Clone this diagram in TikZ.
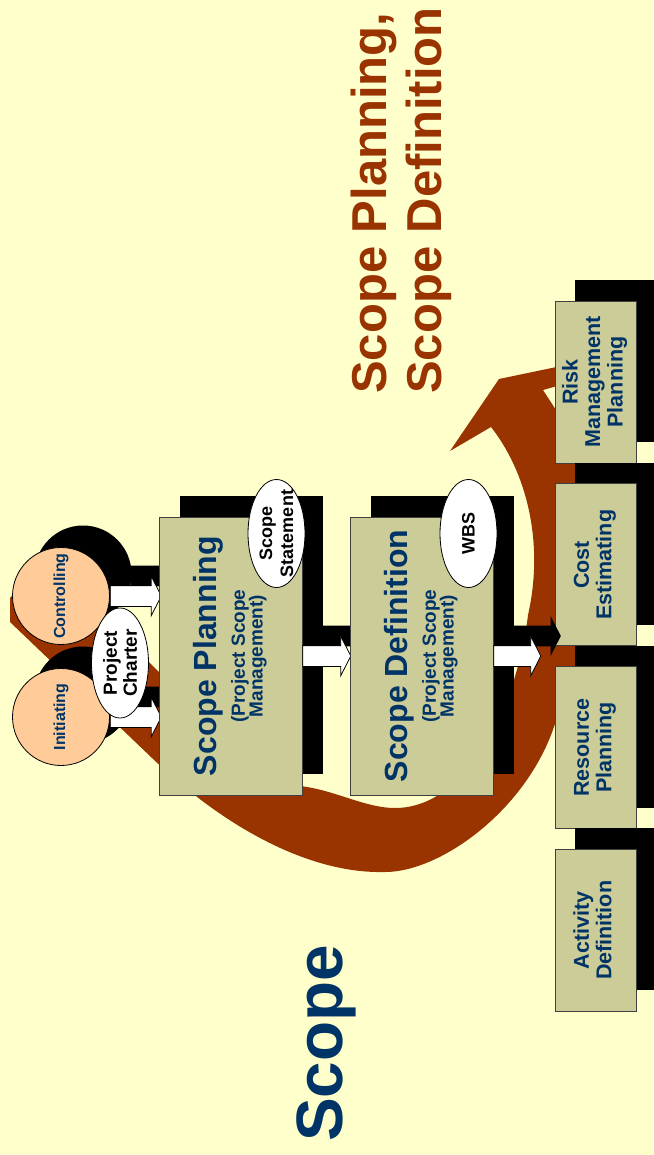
\documentclass[tikz,border=0pt]{standalone}
\usepackage{fontspec}
\setmainfont{Liberation Sans}
\usepackage{graphicx}
\usepackage{tikz}
\usetikzlibrary{shapes,positioning,calc}
\usetikzlibrary{shapes.geometric, shapes.arrows}
\usetikzlibrary{shadows}
\definecolor{sfondo}{HTML}{FFFFCC}
\definecolor{marrone}{HTML}{993300}
\definecolor{kaki}{HTML}{CCCC99}
\definecolor{pesca}{HTML}{FFCC99}
\definecolor{blu}{HTML}{003366}
\tikzstyle{processo} = [rectangle, fill=kaki, draw=black!75, line width=0.8pt,
minimum width=143pt, minimum height=278pt, inner sep=0pt, text=blu,
font=\fontsize{19}{16}\selectfont\bfseries,
drop shadow={shadow xshift=21pt, shadow yshift=21pt, fill=black, opacity=1}]
\tikzstyle{attivita} = [rectangle, fill=kaki, draw=black!75, line width=0.8pt,
minimum width=81pt, minimum height=162pt, inner sep=0pt, text=blu,
font=\fontsize{21.5}{22.5}\selectfont\bfseries,
drop shadow={shadow xshift=20pt, shadow yshift=21pt, fill=black, opacity=1}]
\tikzstyle{gruppo} = [circle, fill=pesca, draw=black, line width=0.8pt,
minimum size=97pt, inner sep=0pt, text=blu, font=\fontsize{16}{18}\selectfont\bfseries,
drop shadow={shadow xshift=22pt, shadow yshift=22pt, fill=black, opacity=1}]
\tikzstyle{documento} = [ellipse, fill=white, draw=black, line width=0.8pt,
minimum width=57pt, minimum height=108pt, inner sep=0pt]
\tikzstyle{etichetta} = [rotate=90, align=center, inner sep=0pt,
font=\fontsize{19}{20}\selectfont\bfseries]
\tikzstyle{freccia} = [single arrow, fill=white, draw=black, line width=0.8pt,
inner xsep=0pt, inner ysep=10pt, minimum width=0pt, single arrow head extend=9.5pt,
single arrow tip angle=126, anchor=tail,
drop shadow={shadow xshift=20pt, shadow yshift=20pt, fill=black, opacity=1}]
\newcommand{\verticale}[1]{\rotatebox{90}{\begin{tabular}{@{}c@{}}#1\end{tabular}}}

\begin{document}
\begin{tikzpicture}[x=1pt,y=-1pt]
	\fill[sfondo] (0,0) rectangle (653,1155);
	\useasboundingbox (0,0) rectangle (653,1155);
	% freccia curva
	\fill[marrone] (10,598) -- (10,622) -- (152,758)
		.. controls (225,828) and (310,874) .. (385,872)
		.. controls (445,872) and (540,800) .. (560,705)
		.. controls (595,660) and (600,500) .. (556,410)
		-- (543,390) -- (557,386) -- (566,365) -- (499,379) -- (450,451) -- (491,427)
		.. controls (525,470) and (545,540) .. (528,615)
		.. controls (518,700) and (470,808) .. (395,808)
		.. controls (365,808) and (335,790) .. (300,786)
		-- (290,780) -- (159,672) -- (45,560) -- cycle;
	% gruppi di processi
	\node (ctrl) at (61,596) [gruppo] {\rotatebox{90}{Controlling}};
	\node (init) at (61,717) [gruppo] {\rotatebox{90}{Initiating}};
	\node (f1) at (ctrl.east) [freccia, minimum height=51pt] {};
	\node (f2) at (init.east) [freccia, minimum height=51pt] {};
	% processi di scope
	\node (plan) at (230.5,656) [processo] {\verticale{{\fontsize{32}{32}\selectfont Scope Planning}\\[9.5pt] (Project Scope\\[-1pt] Management)}};
	\node (f3) at (plan.east) [freccia, minimum height=48pt] {};
	\node (defn) at (421.5,656) [processo] {\verticale{{\fontsize{32}{32}\selectfont Scope Definition}\\[9.5pt] (Project Scope\\[-1pt] Management)}};
	% processi successivi
	\node (risk) at (595.5,382) [attivita] {\verticale{Risk\\Management\\Planning}};
	\node (cost) [attivita, below=20pt of risk] {\verticale{Cost\\Estimating}};
	\node (res) [attivita, below=20pt of cost] {\verticale{Resource\\Planning}};
	\node (act) [attivita, below=20pt of res] {\verticale{Activity\\Definition}};
	\node (f4) at (defn.east) [freccia, minimum height=47pt] {};
	% documenti
	\node (charter) at (120,663) [documento, minimum height=110pt,
		label={[etichetta]center:Project\\Charter}] {};
	\node (statement) at (276.5,533.5) [documento,
		label={[etichetta, font=\fontsize{18}{21}\selectfont\bfseries]center:Scope\\Statement}] {};
	\node (wbs) at (468.5,533.5) [documento,
		label={[etichetta, font=\fontsize{18}{21}\selectfont\bfseries]center:WBS}] {};
	% titoli
	\node (titolo) at (351,394) [rotate=90, anchor=north west, inner sep=0pt, align=left,
		text=marrone, font=\fontsize{49}{55}\selectfont\bfseries] {Scope Planning,\\Scope Definition};
	\node (scope) at (296,1142) [rotate=90, anchor=north west, inner sep=0pt,
		text=blu, font=\fontsize{65.6}{70}\selectfont\bfseries] {Scope};
\end{tikzpicture}
\end{document}
